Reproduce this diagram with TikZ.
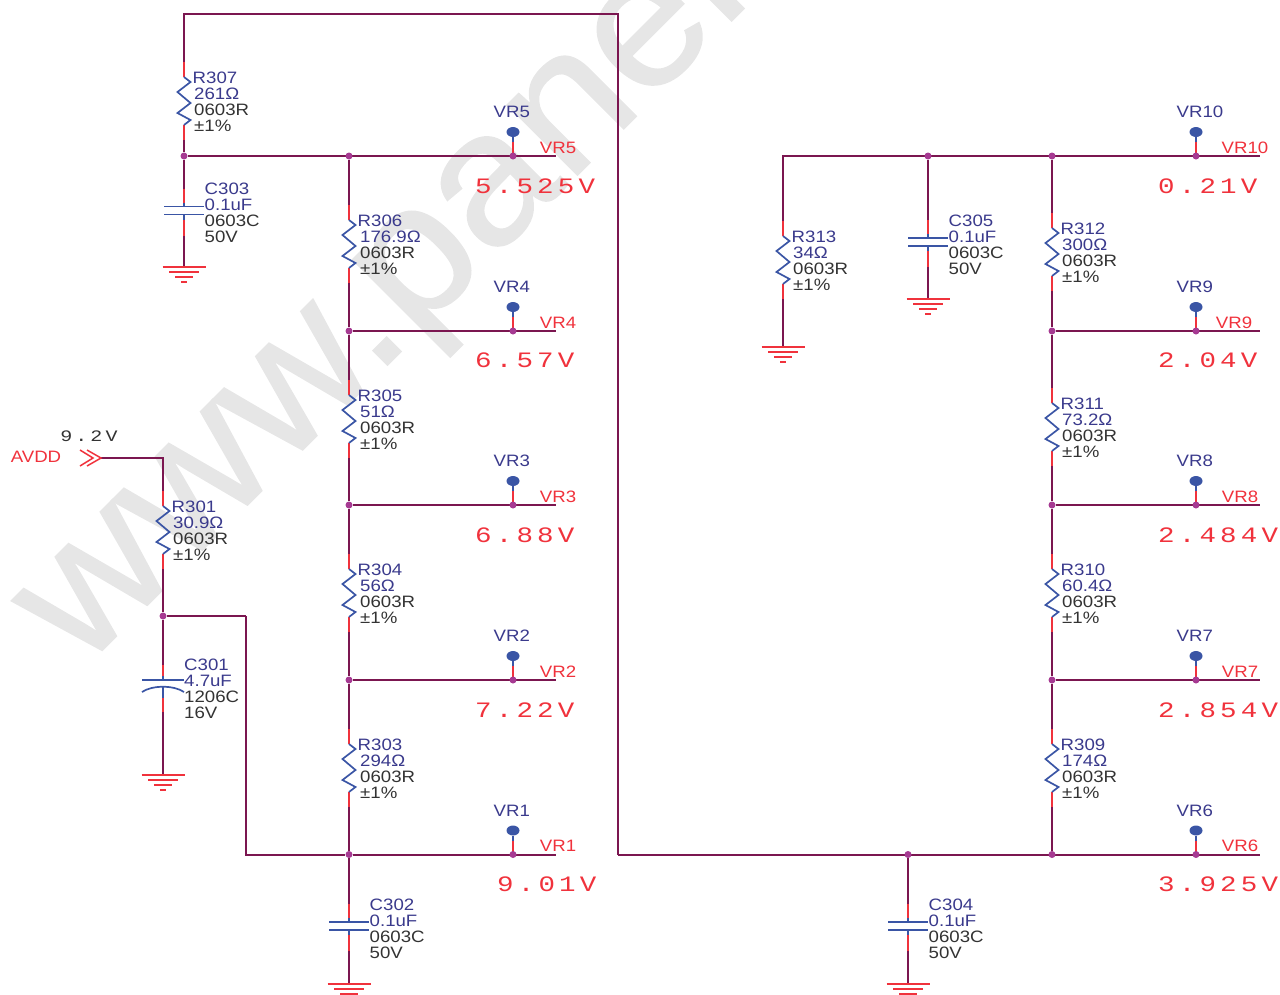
\documentclass[tikz,border=0pt]{standalone}
\usepackage{fontspec}
\usepackage{xcolor}
\usetikzlibrary{shapes.geometric}
\setmainfont[FakeStretch=1.13]{Liberation Sans}
\newfontfamily\voltfont[FakeStretch=1.25,LetterSpace=19]{Liberation Mono}
\newfontfamily\markfont[FakeBold=1,FakeStretch=1.05]{Liberation Sans}
\definecolor{wr}{HTML}{7b1650}
\definecolor{pn}{HTML}{f0323c}
\definecolor{sy}{HTML}{3a55a5}
\definecolor{nm}{HTML}{3a3a8c}
\definecolor{tx}{HTML}{333333}
\definecolor{jn}{HTML}{a63a92}
\definecolor{wm}{HTML}{e6e6e6}
\pgfdeclarelayer{wires}
\pgfsetlayers{wires,main}
\tikzset{
  wire/.style={color=wr,line width=2pt},
  pinline/.style={color=pn,line width=2pt},
  symb/.style={color=sy,line width=1.7pt},
  gndline/.style={color=pn,line width=1.5pt},
  junct/.style={circle,fill=jn,inner sep=0pt,minimum size=7pt},
  probe/.style={ellipse,fill=sy,inner sep=0pt,minimum width=13pt,minimum height=10pt},
  partlabel/.style={anchor=west,align=left,inner sep=0pt,text=tx,font=\fontsize{16.5}{16}\selectfont},
  probelabel/.style={anchor=west,inner sep=0pt,text=nm,font=\fontsize{16.5}{16}\selectfont},
  netlabel/.style={inner sep=0pt,text=pn,font=\fontsize{16.5}{16}\selectfont},
  voltlabel/.style={anchor=west,inner sep=0pt,text=pn,font=\voltfont\fontsize{22}{22}\selectfont},
}
% shift of the lower lines, name, x, y of the middle, value
\newcommand{\resistor}[5][1.5pt]{
  \coordinate (#2t) at (#3,#4-39);
  \coordinate (#2b) at (#3,#4+39);
  \draw[pinline] (#2t) -- (#3,#4-24);
  \draw[pinline] (#3,#4+24) -- (#2b);
  \draw[symb] (#3,#4-24) -- (#3+6.5,#4-19) -- (#3-6.5,#4-9) -- (#3+6.5,#4+2) -- (#3-6.5,#4+12) -- (#3+6.5,#4+19) -- (#3,#4+24);
  \node[partlabel] (#2) at (#3+8.5,#4+1) {{\color{nm}#2}\\\hspace*{#1}{\color{nm}#5}\\\hspace*{#1}0603R\\\hspace*{#1}±1\%};
}
% name, x, y of the middle, value, size, voltage
\newcommand{\capacitor}[6]{
  \coordinate (#1t) at (#2,#3-22);
  \coordinate (#1b) at (#2,#3+25);
  \draw[pinline] (#1t) -- (#2,#3-4);
  \draw[pinline] (#2,#3+4) -- (#1b);
  \draw[symb] (#2-20,#3-4) -- (#2+20,#3-4);
  \draw[symb] (#2-20,#3+4) -- (#2+20,#3+4);
  \draw[symb] (#2,#3-8) -- (#2,#3-4);
  \draw[symb] (#2,#3+4) -- (#2,#3+9);
  \node[partlabel] (#1) at (#2+20.5,#3+2.5) {{\color{nm}#1}\\{\color{nm}#4}\\#5\\#6};
}
\newcommand{\ground}[3]{
  \coordinate (#1) at (#2,#3);
  \draw[gndline] (#2-21.5,#3) -- (#2+21.5,#3);
  \draw[gndline] (#2-15,#3+5) -- (#2+15,#3+5);
  \draw[gndline] (#2-9,#3+10) -- (#2+9,#3+10);
  \draw[gndline] (#2-3,#3+15) -- (#2+3,#3+15);
}
% name, x, y of the rail, x of the red text
\newcommand{\tap}[4]{
  \node[probe] (#1d) at (#2,#3-24) {};
  \coordinate (#1m) at (#2,#3-14);
  \node[probelabel] (#1l) at (#2-19.5,#3-44) {#1};
  \node[netlabel] (#1n) at (#4,#3-8.5) {#1};
  \draw[symb] (#1d) -- (#1m);
  \draw[pinline] (#1m) -- (#2,#3);
  \node[junct] (#1) at (#2,#3) {};
}
\begin{document}
\begin{tikzpicture}[x=1pt,y=-1pt]
  \useasboundingbox (0,0) rectangle (1280,994);
  % watermark
  \begin{pgfonlayer}{wires}
    \clip (0,0) rectangle (1280,994);
    \node[anchor=base west,inner sep=0pt,text=wm,rotate=45,font=\markfont\fontsize{187}{187}\selectfont] (mark) at (81.6,670.6) {www.panel};
  \end{pgfonlayer}
  % left part
  \coordinate (avdd) at (101,458);
  \draw[pn,line width=1.5pt] (80,450) -- (93,458) -- (80,466);
  \draw[pn,line width=1.5pt] (87,450) -- (avdd) -- (87,466);
  \node[netlabel] (avddl) at (36,457) {AVDD};
  \node[inner sep=0pt,text=tx,font=\voltfont\fontsize{16}{16}\selectfont] (vin) at (89,436) {9.2V};
  \resistor{R301}{163}{530}{30.9Ω}
  \node[junct] (j301) at (163,616) {};
  \coordinate (c1) at (246,616);
  \coordinate (C301t) at (163,665);
  \coordinate (C301b) at (163,712);
  \draw[pinline] (C301t) -- (163,680);
  \draw[pinline] (163,687) -- (C301b);
  \draw[symb] (142,680) -- (184,680);
  \draw[symb] (142,692) .. controls (152,685) and (174,685) .. (184,692);
  \draw[symb] (163,676) -- (163,680);
  \draw[symb] (163,687) -- (163,698);
  \node[partlabel] (C301) at (184,689) {{\color{nm}C301}\\{\color{nm}4.7uF}\\1206C\\16V};
  \ground{g301}{163}{775}
  % middle chain
  \resistor{R307}{184}{101}{261Ω}
  \capacitor{C303}{184}{210.5}{0.1uF}{0603C}{50V}
  \ground{g303}{184}{267}
  \node[junct] (j307) at (184,156) {};
  \node[junct] (j306) at (349,156) {};
  \node[junct] (j305) at (349,331) {};
  \node[junct] (j304) at (349,505) {};
  \node[junct] (j303) at (349,680) {};
  \node[junct] (j302) at (349,854.5) {};
  \resistor[2.5pt]{R306}{349}{244}{176.9Ω}
  \resistor[2.5pt]{R305}{349}{419}{51Ω}
  \resistor[2.5pt]{R304}{349}{593}{56Ω}
  \resistor[2.5pt]{R303}{349}{768}{294Ω}
  \capacitor{C302}{349}{926}{0.1uF}{0603C}{50V}
  \ground{g302}{349}{984}
  \tap{VR5}{513}{156}{558}
  \tap{VR4}{513}{331}{558}
  \tap{VR3}{513}{505}{558}
  \tap{VR2}{513}{680}{558}
  \tap{VR1}{513}{854.5}{558}
  \coordinate (e5) at (556,156);
  \coordinate (e4) at (556,331);
  \coordinate (e3) at (556,505);
  \coordinate (e2) at (556,680);
  \coordinate (e1) at (556,854.5);
  \coordinate (tl) at (184,14);
  \coordinate (tr) at (618,14);
  \coordinate (br) at (618,854.5);
  \node[voltlabel] (v5) at (475,186) {5.525V};
  \node[voltlabel] (v4) at (475,360) {6.57V};
  \node[voltlabel] (v3) at (475,535) {6.88V};
  \node[voltlabel] (v2) at (475,710) {7.22V};
  \node[voltlabel] (v1) at (497,884) {9.01V};
  % right part
  \coordinate (R313c) at (783,156);
  \node[junct] (j305r) at (928,156) {};
  \node[junct] (j312) at (1052,156) {};
  \node[junct] (j311) at (1052,331) {};
  \node[junct] (j310) at (1052,505) {};
  \node[junct] (j309) at (1052,680) {};
  \node[junct] (j308) at (1052,854.5) {};
  \node[junct] (j304r) at (908,854.5) {};
  \resistor{R313}{783}{260}{34Ω}
  \ground{g313}{783}{347}
  \capacitor{C305}{928}{242}{0.1uF}{0603C}{50V}
  \ground{g305}{928}{299}
  \capacitor{C304}{908}{926}{0.1uF}{0603C}{50V}
  \ground{g304}{908}{984}
  \resistor{R312}{1052}{252}{300Ω}
  \resistor{R311}{1052}{427}{73.2Ω}
  \resistor{R310}{1052}{593}{60.4Ω}
  \resistor{R309}{1052}{768}{174Ω}
  \tap{VR10}{1196}{156}{1245}
  \tap{VR9}{1196}{331}{1234}
  \tap{VR8}{1196}{505}{1240}
  \tap{VR7}{1196}{680}{1240}
  \tap{VR6}{1196}{854.5}{1240}
  \coordinate (e10) at (1260,156);
  \coordinate (e9) at (1260,331);
  \coordinate (e8) at (1260,505);
  \coordinate (e7) at (1260,680);
  \coordinate (e6) at (1260,854.5);
  \node[voltlabel] (v10) at (1158,186) {0.21V};
  \node[voltlabel] (v9) at (1158,360) {2.04V};
  \node[voltlabel] (v8) at (1158,535) {2.484V};
  \node[voltlabel] (v7) at (1158,710) {2.854V};
  \node[voltlabel] (v6) at (1158,884) {3.925V};
  % wires go under the pins and the dots
  \begin{pgfonlayer}{wires}
    \draw[wire] (avdd) -| (R301t);
    \draw[wire] (R301b) -- (j301);
    \draw[wire] (j301) -- (C301t);
    \draw[wire] (C301b) -- (g301);
    \draw[wire] (j301) -- (c1);
    \draw[wire] (R307t) -- (tl) -- (tr) -- (br);
    \draw[wire] (R307b) -- (j307);
    \draw[wire] (j307) -- (C303t);
    \draw[wire] (C303b) -- (g303);
    \draw[wire] (j307) -- (e5);
    \draw[wire] (j306) -- (R306t);
    \draw[wire] (R306b) -- (j305);
    \draw[wire] (j305) -- (R305t);
    \draw[wire] (R305b) -- (j304);
    \draw[wire] (j304) -- (R304t);
    \draw[wire] (R304b) -- (j303);
    \draw[wire] (j303) -- (R303t);
    \draw[wire] (R303b) -- (j302);
    \draw[wire] (j302) -- (C302t);
    \draw[wire] (C302b) -- (g302);
    \draw[wire] (c1) |- (j302);
    \draw[wire] (j305) -- (e4);
    \draw[wire] (j304) -- (e3);
    \draw[wire] (j303) -- (e2);
    \draw[wire] (j302) -- (e1);
    \draw[wire] (R313t) -- (R313c) -- (e10);
    \draw[wire] (R313b) -- (g313);
    \draw[wire] (j305r) -- (C305t);
    \draw[wire] (C305b) -- (g305);
    \draw[wire] (j312) -- (R312t);
    \draw[wire] (R312b) -- (j311);
    \draw[wire] (j311) -- (R311t);
    \draw[wire] (R311b) -- (j310);
    \draw[wire] (j310) -- (R310t);
    \draw[wire] (R310b) -- (j309);
    \draw[wire] (j309) -- (R309t);
    \draw[wire] (R309b) -- (j308);
    \draw[wire] (br) -- (e6);
    \draw[wire] (j304r) -- (C304t);
    \draw[wire] (C304b) -- (g304);
    \draw[wire] (j311) -- (e9);
    \draw[wire] (j310) -- (e8);
    \draw[wire] (j309) -- (e7);
  \end{pgfonlayer}
\end{tikzpicture}
\end{document}
